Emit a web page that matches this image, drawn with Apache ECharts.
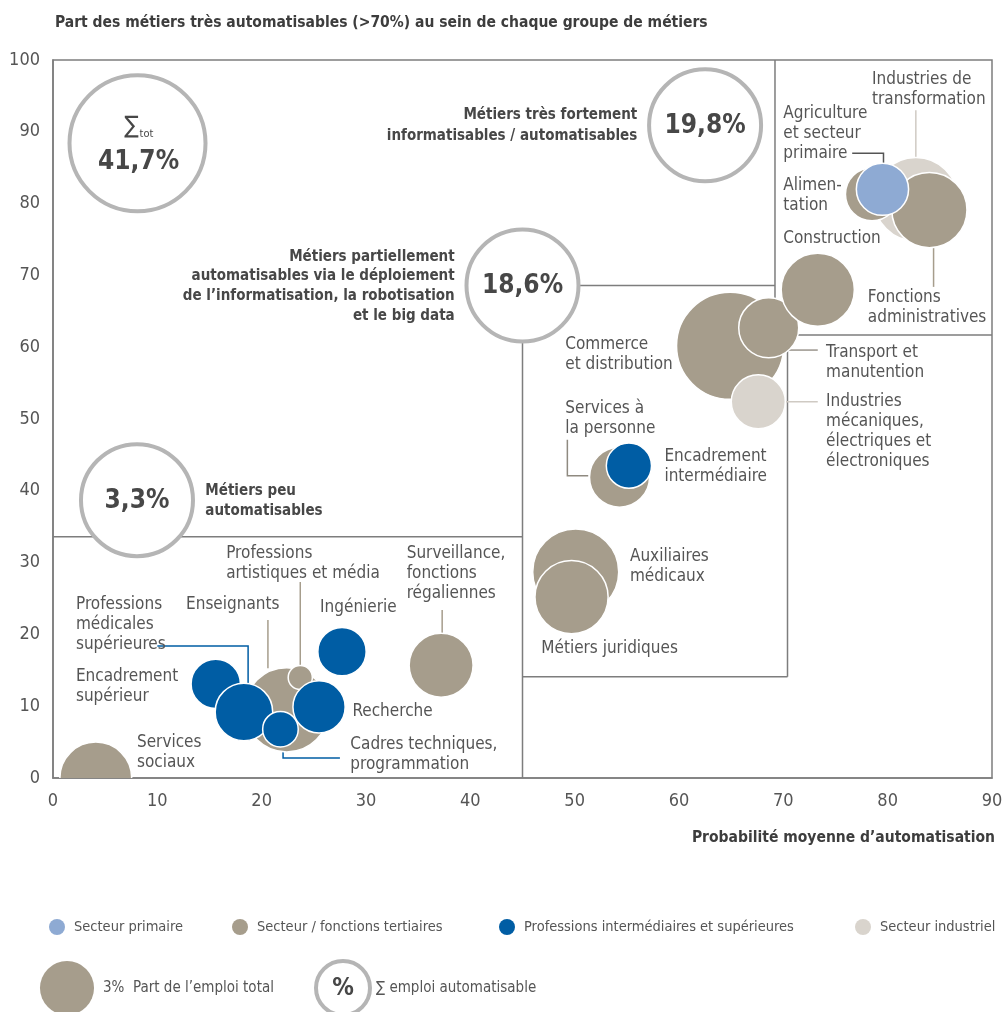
<!DOCTYPE html>
<html><head><meta charset="utf-8">
<script src="https://cdn.jsdelivr.net/npm/echarts@6/dist/echarts.min.js"></script>
<style>html,body{margin:0;padding:0;background:#fff}#c{width:1006px;height:1012px}</style>
</head><body><div id="c"></div>
<script>
// ---------------- DATA ----------------
const groupNames = ['Secteur primaire', 'Secteur / fonctions tertiaires', 'Professions intermédiaires et supérieures', 'Secteur industriel'];
// occupations listed in drawing order (back to front)
const occupations = ['Services sociaux', 'Enseignants', 'Professions artistiques et média', 'Encadrement supérieur',
  'Professions médicales supérieures', 'Recherche', 'Cadres techniques, programmation', 'Ingénierie',
  'Surveillance, fonctions régaliennes', 'Auxiliaires médicaux', 'Métiers juridiques', 'Services à la personne',
  'Encadrement intermédiaire', 'Commerce et distribution', 'Transport et manutention',
  'Industries mécaniques, électriques et électroniques', 'Construction', 'Industries de transformation',
  'Alimentation', 'Fonctions administratives', 'Agriculture et secteur primaire'];
const occGroup = [1, 1, 1, 2, 2, 2, 2, 2, 1, 1, 1, 1, 2, 1, 1, 3, 1, 3, 1, 1, 0];
// mean automation probability (%)
const automationProb = [4.1, 22.4, 23.7, 15.6, 18.3, 25.5, 21.8, 27.7, 37.2, 50.1, 49.7, 54.3, 55.2, 64.9, 68.6, 67.6, 73.3, 82.7, 78.5, 84.0, 79.5];
// share of highly automatable jobs (>70%) within the group (%)
const highlyAutomatableShare = [0, 9.5, 14.0, 13.1, 9.2, 9.9, 6.8, 17.6, 15.7, 28.7, 25.2, 41.9, 43.5, 60.2, 62.7, 52.4, 68.0, 80.6, 81.3, 79.1, 82.0];
// share of total employment (%)
const employmentShare = [5.3, 7.3, 0.6, 2.5, 3.4, 2.8, 1.3, 2.4, 4.2, 7.6, 5.5, 3.7, 2.1, 11.8, 3.7, 3.0, 5.5, 7.2, 2.9, 5.8, 2.8];
// summary of automatable employment
const summaryLabels = ['41,7%', '19,8%', '18,6%', '3,3%'];
const xTicks = [0, 10, 20, 30, 40, 50, 60, 70, 80, 90];
const yTicks = [0, 10, 20, 30, 40, 50, 60, 70, 80, 90, 100];

// ---------------- STYLE / LAYOUT ----------------
const FONT = "'Liberation Sans Narrow', 'DejaVu Sans Condensed', 'Liberation Sans', sans-serif";
const GROUP_COLORS = ['#8eaad3', '#a69d8c', '#005da4', '#d9d4cd'];
const TEXT = '#555555';
const DARK = '#474747';
const RING = '#b5b5b5';
const LINE = '#7d7d7d';
const radiusFor = s => 15.6 * Math.sqrt(s);

// summary rings (data coordinates) with radius in px
const ringLayout = [
  { x: 8.1, y: 88.4, r: 68 },
  { x: 62.5, y: 90.9, r: 56 },
  { x: 45.0, y: 68.6, r: 56 },
  { x: 8.05, y: 38.7, r: 56 }
];
// region frame lines (data coordinates)
const regionLines = [
  [[0, 33.6], [45, 33.6]],
  [[45, 68.6], [45, 0]],
  [[45, 68.6], [69.2, 68.6]],
  [[69.2, 100], [69.2, 61.7]],
  [[69.2, 61.7], [90, 61.7]],
  [[70.4, 61.7], [70.4, 14.1]],
  [[70.4, 14.1], [45, 14.1]]
];
// bubble labels: left anchor, first-line centre (data coords)
const labelLayout = [
  { t: 'Professions\nartistiques et média', x: 16.6, y: 31.3 },
  { t: 'Surveillance,\nfonctions\nrégaliennes', x: 33.9, y: 31.3 },
  { t: 'Professions\nmédicales\nsupérieures', x: 2.2, y: 24.2 },
  { t: 'Enseignants', x: 12.75, y: 24.2 },
  { t: 'Ingénierie', x: 25.6, y: 23.8 },
  { t: 'Encadrement\nsupérieur', x: 2.2, y: 14.1 },
  { t: 'Services\nsociaux', x: 8.05, y: 5.0 },
  { t: 'Recherche', x: 28.7, y: 9.2 },
  { t: 'Cadres techniques,\nprogrammation', x: 28.5, y: 4.6 },
  { t: 'Industries de\ntransformation', x: 78.5, y: 97.3 },
  { t: 'Agriculture\net secteur\nprimaire', x: 70.0, y: 92.6 },
  { t: 'Alimen-\ntation', x: 70.0, y: 82.5 },
  { t: 'Construction', x: 70.0, y: 75.1 },
  { t: 'Fonctions\nadministratives', x: 78.1, y: 66.9 },
  { t: 'Commerce\net distribution', x: 49.1, y: 60.3 },
  { t: 'Transport et\nmanutention', x: 74.1, y: 59.3 },
  { t: 'Industries\nmécaniques,\nélectriques et\nélectroniques', x: 74.1, y: 52.4 },
  { t: 'Services à\nla personne', x: 49.1, y: 51.4 },
  { t: 'Encadrement\nintermédiaire', x: 58.6, y: 44.8 },
  { t: 'Auxiliaires\nmédicaux', x: 55.3, y: 30.8 },
  { t: 'Métiers juridiques', x: 46.8, y: 18.0 }
];
// leader lines (data coords)
const leaders = [
  { c: GROUP_COLORS[2], p: [[10.0, 18.4], [18.7, 18.4], [18.7, 13.2]] },
  { c: GROUP_COLORS[1], p: [[20.6, 22.0], [20.6, 15.3]] },
  { c: GROUP_COLORS[1], p: [[23.7, 27.3], [23.7, 15.7]] },
  { c: GROUP_COLORS[1], p: [[37.3, 23.4], [37.3, 20.2]] },
  { c: GROUP_COLORS[2], p: [[22.05, 4.6], [22.05, 2.8], [27.5, 2.8]] },
  { c: '#555555', p: [[76.6, 87.0], [79.6, 87.0], [79.6, 85.4]] },
  { c: '#cfcac3', p: [[82.7, 93.0], [82.7, 86.4]] },
  { c: GROUP_COLORS[1], p: [[84.4, 74.0], [84.4, 68.4]] },
  { c: '#9a958d', p: [[70.4, 59.6], [73.3, 59.6]] },
  { c: '#cfcac3', p: [[70.2, 52.4], [73.3, 52.4]] },
  { c: '#8f8a80', p: [[49.3, 47.1], [49.3, 42.1], [51.3, 42.1]] }
];
// bold region annotations
const regionNotes = [
  { t: 'Métiers très fortement\ninformatisables / automatisables', x: 56.0, y: 92.3, align: 'right', lh: 21 },
  { t: 'Métiers partiellement\nautomatisables via le déploiement\nde l\u2019informatisation, la robotisation\net le big data', x: 38.5, y: 72.6, align: 'right', lh: 19.7 },
  { t: 'Métiers peu\nautomatisables', x: 14.6, y: 40.0, align: 'left', lh: 20 }
];
const LEGEND_LEFT = [44, 227, 494, 850];

// ---------------- CHART ----------------
const chart = echarts.init(document.getElementById('c'));
const series = groupNames.map((g, gi) => ({
  type: 'custom', name: g, coordinateSystem: 'cartesian2d', clip: true,
  itemStyle: { color: GROUP_COLORS[gi] },
  encode: { x: 0, y: 1 },
  data: occupations.map((n, i) => ({ name: n, value: [automationProb[i], highlyAutomatableShare[i], employmentShare[i], i], g: occGroup[i] }))
    .filter(d => d.g === gi).map(d => ({ name: d.name, value: d.value })),
  renderItem: (params, api) => {
    const c = api.coord([api.value(0), api.value(1)]);
    return {
      type: 'circle', z2: 10 + api.value(3),
      shape: { cx: c[0], cy: c[1], r: radiusFor(api.value(2)) },
      style: { fill: GROUP_COLORS[gi], stroke: '#ffffff', lineWidth: 1.5 }
    };
  }
}));

chart.setOption({
  animation: false,
  backgroundColor: '#ffffff',
  grid: { left: 53, right: 14, top: 60, bottom: 234, show: true, borderColor: LINE, borderWidth: 1.5, backgroundColor: 'transparent' },
  xAxis: {
    type: 'value', min: xTicks[0], max: xTicks[xTicks.length - 1], interval: 10,
    axisLine: { show: true, lineStyle: { color: LINE, width: 1.5 } }, axisTick: { show: false }, splitLine: { show: false },
    axisLabel: { margin: 14, fontSize: 18, fontFamily: FONT, color: TEXT }
  },
  yAxis: {
    type: 'value', min: yTicks[0], max: yTicks[yTicks.length - 1], interval: 10,
    axisLine: { show: true, lineStyle: { color: LINE, width: 1.5 } }, axisTick: { show: false }, splitLine: { show: false },
    axisLabel: { margin: 13, fontSize: 18, fontFamily: FONT, color: TEXT }
  },
  legend: groupNames.map((g, gi) => ({
    data: [{ name: g, icon: 'circle' }], left: LEGEND_LEFT[gi], top: 914, itemWidth: 16, itemHeight: 16,
    selectedMode: false, textStyle: { fontFamily: FONT, fontSize: 14.5, color: TEXT, padding: [0, 0, 0, 4] }
  })),
  series
});

function P(x, y) { return chart.convertToPixel({ gridIndex: 0 }, [x, y]); }
const g = [];
// region lines
regionLines.forEach(seg => {
  g.push({ type: 'polyline', z: 0, silent: true, shape: { points: seg.map(p => P(p[0], p[1])) }, style: { stroke: LINE, lineWidth: 1.5, fill: null } });
});
// leaders
leaders.forEach(l => {
  g.push({ type: 'polyline', z: 1, silent: true, shape: { points: l.p.map(p => P(p[0], p[1])) }, style: { stroke: l.c, lineWidth: 1.5, fill: null } });
});
// rings
ringLayout.forEach((r, i) => {
  const c = P(r.x, r.y);
  g.push({ type: 'circle', z: 1, silent: true, shape: { cx: c[0], cy: c[1], r: r.r }, style: { fill: '#ffffff', stroke: RING, lineWidth: 4 } });
  if (i === 0) {
    g.push({ type: 'text', z: 3, x: c[0] + 1, y: c[1] + 19, style: { text: summaryLabels[i], font: 'bold 26px ' + FONT, fill: DARK, align: 'center', verticalAlign: 'middle' } });
    g.push({ type: 'text', z: 3, x: c[0] - 6, y: c[1] - 17, style: { text: '\u2211', font: '24px ' + FONT, fill: DARK, align: 'center', verticalAlign: 'middle' } });
    g.push({ type: 'text', z: 3, x: c[0] + 2, y: c[1] - 9, style: { text: 'tot', font: '11px ' + FONT, fill: DARK, align: 'left', verticalAlign: 'middle' } });
  } else {
    g.push({ type: 'text', z: 3, x: c[0], y: c[1] + 1, style: { text: summaryLabels[i], font: 'bold 26px ' + FONT, fill: DARK, align: 'center', verticalAlign: 'middle' } });
  }
});
// bubble labels
labelLayout.forEach(l => {
  const c = P(l.x, l.y);
  g.push({ type: 'text', z: 3, silent: true, x: c[0], y: c[1] - 10, style: { text: l.t, font: '17px ' + FONT, fill: TEXT, align: 'left', verticalAlign: 'top', lineHeight: 20 } });
});
// region notes
regionNotes.forEach(n => {
  const c = P(n.x, n.y);
  g.push({ type: 'text', z: 3, silent: true, x: c[0], y: c[1] - n.lh / 2, style: { text: n.t, font: 'bold 15px ' + FONT, fill: DARK, align: n.align, verticalAlign: 'top', lineHeight: n.lh } });
});
// title & axis name
g.push({ type: 'text', z: 3, x: 55, y: 23, style: { text: 'Part des métiers très automatisables (>70%) au sein de chaque groupe de métiers', font: 'bold 15.5px ' + FONT, fill: '#3d3d3d', align: 'left', verticalAlign: 'middle' } });
g.push({ type: 'text', z: 3, x: 995, y: 838, style: { text: 'Probabilité moyenne d\u2019automatisation', font: 'bold 15.5px ' + FONT, fill: '#3d3d3d', align: 'right', verticalAlign: 'middle' } });
// size legend
g.push({ type: 'circle', z: 3, shape: { cx: 67, cy: 988, r: radiusFor(3) }, style: { fill: GROUP_COLORS[1] } });
g.push({ type: 'text', z: 3, x: 103, y: 988, style: { text: '3%  Part de l\u2019emploi total', font: '15px ' + FONT, fill: TEXT, align: 'left', verticalAlign: 'middle' } });
g.push({ type: 'circle', z: 3, shape: { cx: 343, cy: 988, r: 27 }, style: { fill: '#ffffff', stroke: RING, lineWidth: 4 } });
g.push({ type: 'text', z: 3, x: 343, y: 989, style: { text: '%', font: 'bold 24px ' + FONT, fill: DARK, align: 'center', verticalAlign: 'middle' } });
g.push({ type: 'text', z: 3, x: 376, y: 988, style: { text: '\u2211 emploi automatisable', font: '15px ' + FONT, fill: TEXT, align: 'left', verticalAlign: 'middle' } });

chart.setOption({ graphic: { elements: g } });
</script></body></html>
